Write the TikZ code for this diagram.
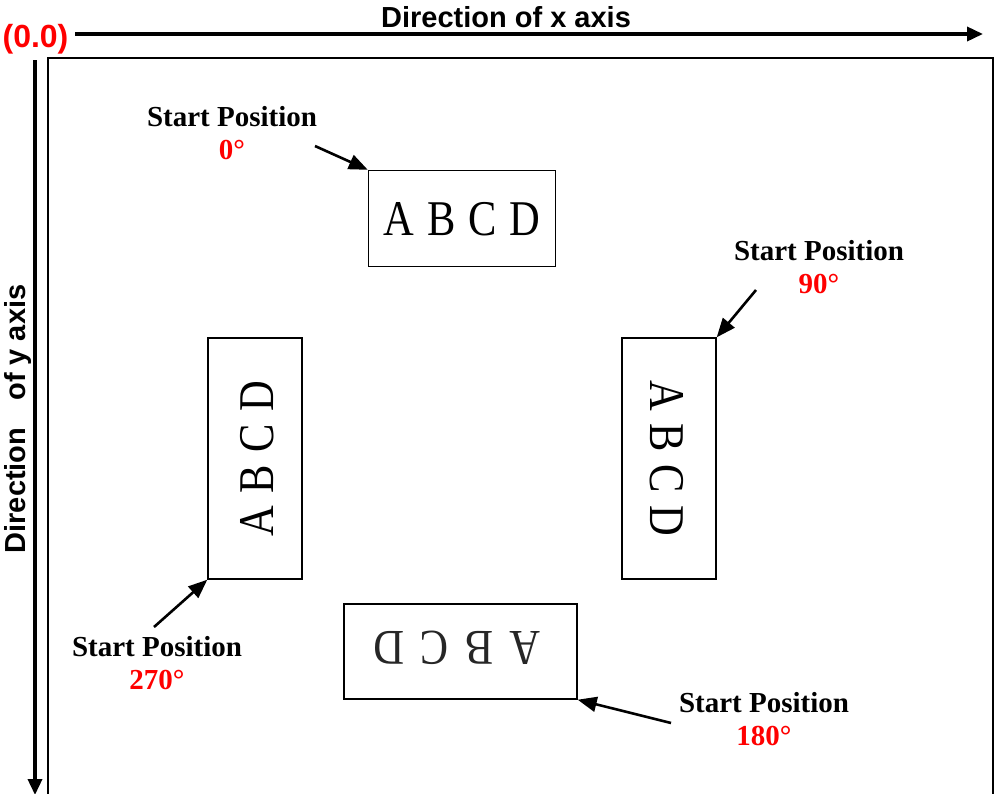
\documentclass[tikz,border=0pt]{standalone}
\usepackage{fontspec}
\setmainfont{Liberation Serif}
\setsansfont{Liberation Sans}
\usetikzlibrary{arrows.meta}
\definecolor{degred}{RGB}{255,0,0}
\tikzset{
  axisline/.style={line width=3.5pt,-{Triangle[length=16pt,width=14pt]}},
  pointer/.style={line width=2.6pt,-{Triangle[length=19pt,width=15pt]}},
  axislabel/.style={font=\sffamily\bfseries\fontsize{29}{33}\selectfont,inner sep=0pt},
  startlabel/.style={font=\rmfamily\bfseries\fontsize{29}{33}\selectfont,inner sep=0pt,align=center},
  paperbox/.style={draw,line width=1.4pt,inner sep=0pt},
  abcd/.style={inner sep=0pt,font=\rmfamily\fontsize{50}{50}\selectfont}
}
\newcommand{\abcdtext}[1]{\scalebox{0.85}[1]{A\hspace{#1}B\hspace{#1}C\hspace{#1}D}}
\begin{document}
\begin{tikzpicture}[x=1pt,y=-1pt]
\useasboundingbox[fill=white] (0,0) rectangle (995,793);
% frame
\draw[line width=1.6pt] (993,810) -- (993,58) -- (48,58) -- (48,810);
% axes
\coordinate (xs) at (75,34);
\coordinate (xe) at (983,34);
\coordinate (ys) at (35,60);
\coordinate (ye) at (35,795);
\draw[axisline] (xs) -- (xe);
\draw[axisline] (ys) -- (ye);
\node[axislabel,text=degred,font=\sffamily\bfseries\fontsize{32}{36}\selectfont] (origin) at (35.5,39) {(0.0)};
\node[axislabel,anchor=base] (xlab) at (506,27) {Direction of x axis};
\node[axislabel,anchor=base,rotate=90] (ylab) at (25,419) {Direction\hspace{27pt}of y axis};
% boxes
\node[paperbox,minimum width=187pt,minimum height=96pt] (b0) at (462,218.5) {};
\node[abcd] (t0) at (462,219) {\abcdtext{15pt}};
\node[paperbox,minimum width=94pt,minimum height=241pt] (b90) at (669,458.5) {};
\node[abcd,rotate=-90] (t90) at (667,458.5) {\abcdtext{15pt}};
\node[paperbox,minimum width=94pt,minimum height=241pt] (b270) at (255,458.5) {};
\node[abcd,rotate=90] (t270) at (257,458.5) {\abcdtext{15pt}};
\node[paperbox,minimum width=233pt,minimum height=95pt] (b180) at (460.5,651.5) {};
\node[abcd,rotate=180,text=black!85] (t180) at (457,648) {\abcdtext{19pt}};
% labels
\node[startlabel] (l0) at (232,133) {Start Position\\\textcolor{degred}{0°}};
\node[startlabel] (l90) at (819,267) {Start Position\\\textcolor{degred}{90°}};
\node[startlabel] (l270) at (157,663) {Start Position\\\textcolor{degred}{270°}};
\node[startlabel] (l180) at (764,719) {Start Position\\\textcolor{degred}{180°}};
% pointers
\coordinate (p0) at (315,146);
\coordinate (p90) at (756,290);
\coordinate (p270) at (154,627);
\coordinate (p180) at (671,723);
\draw[pointer] (p0) -- (b0.north west);
\draw[pointer] (p90) -- (b90.north east);
\draw[pointer] (p270) -- (b270.south west);
\draw[pointer] (p180) -- (b180.south east);
\end{tikzpicture}
\end{document}
